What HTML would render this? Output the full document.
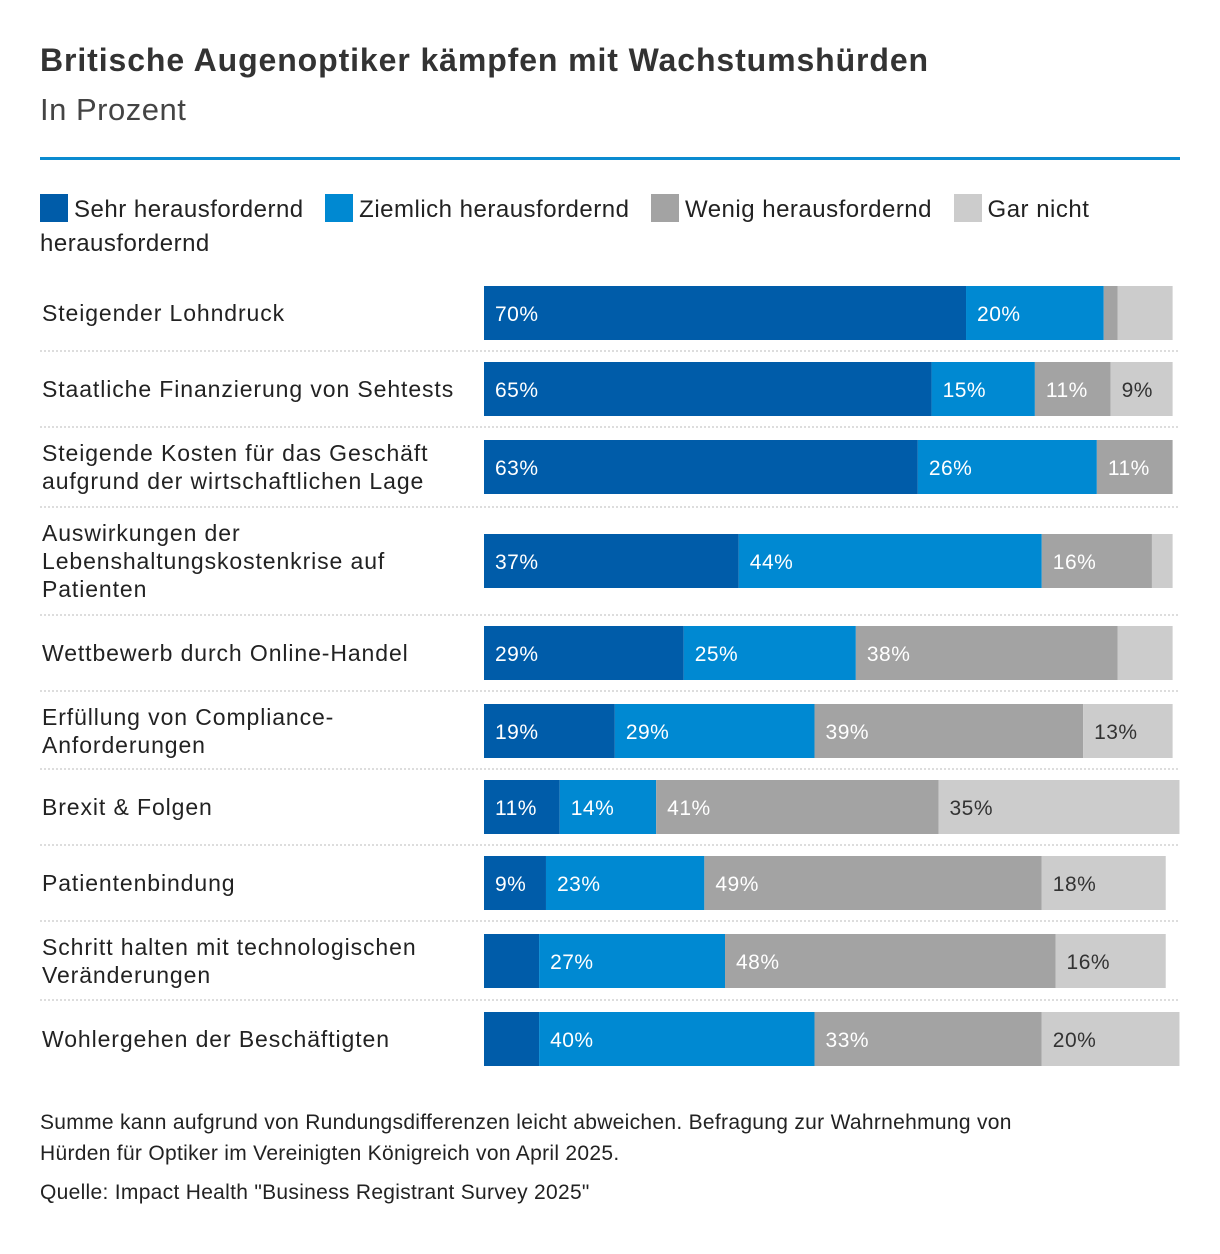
<!DOCTYPE html>
<html><head><meta charset="utf-8">
<style>
body{margin:0;background:#fff;font-family:"Liberation Sans",sans-serif;color:#333;}
#wrap{position:relative;width:1220px;height:1254px;overflow:hidden;}
.t{position:absolute;white-space:nowrap;}
</style></head><body>
<div id="wrap">
<div class="t" style="left:40px;top:42px;font-size:32px;letter-spacing:0.9px;font-weight:bold;color:#333;">Britische Augenoptiker kämpfen mit Wachstumshürden</div>
<div class="t" style="left:40px;top:92px;font-size:31px;letter-spacing:0.5px;color:#444;">In Prozent</div>
<div style="position:absolute;left:40px;top:157px;width:1140px;height:3px;background:#0a8bd0;"></div>
<div style="position:absolute;left:40px;top:193px;width:1140px;font-size:24px;letter-spacing:0.5px;line-height:34px;color:#222;">
<span><span style="display:inline-block;width:28px;height:28px;background:#005ca9;vertical-align:-5px;margin-right:6px"></span>Sehr herausfordernd</span>&nbsp;&nbsp;
<span><span style="display:inline-block;width:28px;height:28px;background:#0089d2;vertical-align:-5px;margin-right:6px"></span>Ziemlich herausfordernd</span>&nbsp;&nbsp;
<span><span style="display:inline-block;width:28px;height:28px;background:#a3a3a3;vertical-align:-5px;margin-right:6px"></span>Wenig herausfordernd</span>&nbsp;&nbsp;
<span><span style="display:inline-block;width:28px;height:28px;background:#cccccc;vertical-align:-5px;margin-right:6px"></span>Gar nicht herausfordernd</span>
</div>
<svg id="chart" width="1220" height="1254" style="position:absolute;left:0;top:0" font-family="Liberation Sans, sans-serif"></svg>
<div class="t" style="left:40px;top:1107px;font-size:21px;letter-spacing:0.3px;line-height:31px;color:#222;">Summe kann aufgrund von Rundungsdifferenzen leicht abweichen. Befragung zur Wahrnehmung von<br>Hürden für Optiker im Vereinigten Königreich von April 2025.</div>
<div class="t" style="left:40px;top:1181px;font-size:21px;letter-spacing:0.3px;color:#222;">Quelle: Impact Health "Business Registrant Survey 2025"</div>
</div>
<script>
const categories=[["Steigender Lohndruck"],["Staatliche Finanzierung von Sehtests"],["Steigende Kosten für das Geschäft","aufgrund der wirtschaftlichen Lage"],["Auswirkungen der","Lebenshaltungskostenkrise auf","Patienten"],["Wettbewerb durch Online-Handel"],["Erfüllung von Compliance-","Anforderungen"],["Brexit & Folgen"],["Patientenbindung"],["Schritt halten mit technologischen","Veränderungen"],["Wohlergehen der Beschäftigten"]];
const sehr=[70,65,63,37,29,19,11,9,8,8];
const ziemlich=[20,15,26,44,25,29,14,23,27,40];
const wenig=[2,11,11,16,38,39,41,49,48,33];
const garNicht=[8,9,0,3,8,13,35,18,16,20];
const seriesNames=["sehr","ziemlich","wenig","gar-nicht"];
const colors=["#005ca9","#0089d2","#a3a3a3","#cccccc"];
const textColors=["#fff","#fff","#fff","#333"];
const rowTops=[286,362,440,534,626,704,780,856,934,1012];
const seps=[351,427,507,615,691,769,845,921,1000];
const x0=484, pxPer=6.886, barH=54;
function xScale(v){return x0+v*pxPer;}
const svg=document.getElementById('chart');
const NS="http://www.w3.org/2000/svg";
seps.forEach((y,i)=>{
  const l=document.createElementNS(NS,'line');
  l.setAttribute('x1',40);l.setAttribute('x2',1178);l.setAttribute('y1',y);l.setAttribute('y2',y);
  l.setAttribute('stroke','#bbb');l.setAttribute('stroke-dasharray','2,2');
  
  
  svg.appendChild(l);
});
const all=[sehr,ziemlich,wenig,garNicht];
categories.forEach((cat,i)=>{
  const top=rowTops[i], mid=top+barH/2;
  const tx=document.createElementNS(NS,'text');
  
  
  tx.setAttribute('font-size','23');tx.setAttribute('letter-spacing','0.9');tx.setAttribute('fill','#222');
  const lh=28, y0=mid-(cat.length-1)*lh/2+8;
  cat.forEach((s,j)=>{const ts=document.createElementNS(NS,'tspan');ts.setAttribute('x',42);ts.setAttribute('y',y0+j*lh);ts.textContent=s;tx.appendChild(ts);});
  svg.appendChild(tx);
  let cum=0;
  all.forEach((arr,k)=>{
    const v=arr[i]; if(v<=0) return;
    const r=document.createElementNS(NS,'rect');
    r.setAttribute('x',xScale(cum));r.setAttribute('y',top);
    r.setAttribute('width',v*pxPer);r.setAttribute('height',barH);r.setAttribute('fill',colors[k]);
    
    
    svg.appendChild(r);
    if(v>=9){
      const t=document.createElementNS(NS,'text');
      t.setAttribute('x',xScale(cum)+11);t.setAttribute('y',mid+8);
      t.setAttribute('font-size','21');t.setAttribute('letter-spacing','0.5');t.setAttribute('fill',textColors[k]);
      t.textContent=v+'%';
      
      
      svg.appendChild(t);
    }
    cum+=v;
  });
});
</script>
</body></html>
